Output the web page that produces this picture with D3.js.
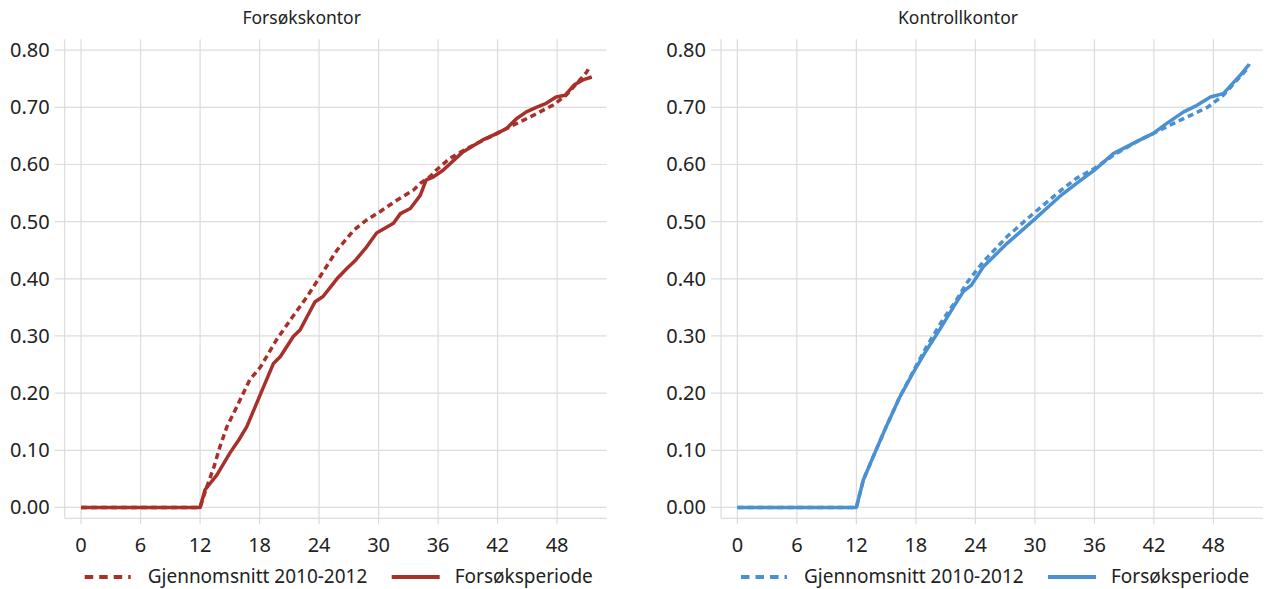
<!DOCTYPE html>
<html>
<head>
<meta charset="utf-8">
<script src="https://cdn.jsdelivr.net/npm/d3@7"></script>
<style>
  body { margin: 0; background: #fff; }
  text { font-family: "Noto Sans", sans-serif; fill: #222; }
</style>
</head>
<body>
<div id="chart"></div>
<script>
const width = 1265, height = 589;

// tick labels
const xTicks = [0, 6, 12, 18, 24, 30, 36, 42, 48];
const yTicks = [0, 0.1, 0.2, 0.3, 0.4, 0.5, 0.6, 0.7, 0.8];

// Forsøkskontor, gjennomsnitt 2010-2012
const forsokAvgX = [0, 12, 12.7, 13.4, 14.0, 14.7, 15.7, 17.0, 18.1, 19.7, 21.1, 22.8, 24.1, 25.8, 27.5, 28.8, 30.1, 31.8, 33.5, 34.2, 35.2, 35.8, 37.2, 38.9, 40.4, 41.9, 43.6, 45.6, 47.6, 48.9, 50.2, 51.0, 51.3];
const forsokAvgY = [0, 0, 0.037, 0.071, 0.106, 0.141, 0.176, 0.223, 0.246, 0.293, 0.328, 0.369, 0.404, 0.45, 0.485, 0.503, 0.517, 0.537, 0.555, 0.567, 0.579, 0.590, 0.611, 0.628, 0.641, 0.654, 0.669, 0.686, 0.704, 0.721, 0.746, 0.762, 0.772];

// Forsøkskontor, forsøksperiode
const forsokTrialX = [0, 12, 12.5, 13.7, 15.0, 15.9, 16.7, 17.7, 18.4, 19.4, 20.1, 21.4, 22.1, 22.8, 23.6, 24.4, 25.8, 26.8, 27.7, 28.8, 29.8, 31.5, 32.2, 33.2, 34.2, 34.8, 35.5, 36.5, 38.5, 40.5, 41.9, 42.9, 43.9, 44.9, 45.9, 46.9, 47.9, 48.8, 49.7, 50.6, 51.5];
const forsokTrialY = [0, 0, 0.031, 0.057, 0.095, 0.118, 0.141, 0.182, 0.211, 0.252, 0.264, 0.299, 0.311, 0.334, 0.36, 0.369, 0.40, 0.418, 0.433, 0.456, 0.48, 0.497, 0.514, 0.523, 0.546, 0.573, 0.578, 0.59, 0.622, 0.643, 0.654, 0.663, 0.68, 0.692, 0.70, 0.707, 0.718, 0.721, 0.739, 0.748, 0.753];

// Kontrollkontor, gjennomsnitt 2010-2012
const kontrollAvgX = [0, 12, 12.7, 13.7, 15.0, 16.4, 17.7, 19.1, 20.7, 22.1, 23.1, 24.8, 27.2, 29.9, 32.5, 34.2, 36.0, 37.9, 40.6, 41.9, 44.0, 45.7, 47.4, 49.0, 50.4, 51.4, 51.6];
const kontrollAvgY = [0, 0, 0.048, 0.089, 0.141, 0.194, 0.237, 0.282, 0.328, 0.363, 0.392, 0.43, 0.474, 0.515, 0.553, 0.576, 0.593, 0.616, 0.643, 0.654, 0.672, 0.686, 0.70, 0.721, 0.748, 0.767, 0.776];

// Kontrollkontor, forsøksperiode
const kontrollTrialX = [0, 12, 12.7, 13.7, 15.0, 16.4, 17.7, 19.1, 20.4, 21.8, 22.8, 23.6, 24.8, 27.2, 29.9, 32.5, 34.2, 36.0, 37.9, 40.6, 41.9, 43.3, 45.0, 46.3, 47.7, 49.0, 49.9, 50.7, 51.5];
const kontrollTrialY = [0, 0, 0.048, 0.089, 0.141, 0.194, 0.235, 0.276, 0.311, 0.351, 0.378, 0.389, 0.421, 0.462, 0.503, 0.544, 0.567, 0.590, 0.619, 0.643, 0.654, 0.672, 0.692, 0.703, 0.718, 0.724, 0.741, 0.756, 0.773];

const legendLabels = ["Gjennomsnitt 2010-2012", "Forsøksperiode"];

const svg = d3.select("#chart")
    .append("svg")
    .attr("width", width)
    .attr("height", height);

const plotTop = 39.3, plotBottom = 518.3, plotWidth = 542;

const y = d3.scaleLinear().domain([-0.019, 0.819]).range([plotBottom, plotTop]);

function toPoints(xs, ys) {
    return xs.map((d, i) => [d, ys[i]]);
}

function drawPanel(left, title, color, avg, trial) {
    const x = d3.scaleLinear().domain([-1.65, 53]).range([left, left + plotWidth]);
    const g = svg.append("g");

    // horizontal grid
    g.selectAll(".hgrid")
        .data(yTicks)
        .join("line")
        .attr("x1", left - 10)
        .attr("x2", left + plotWidth)
        .attr("y1", d => y(d))
        .attr("y2", d => y(d))
        .attr("stroke", "#dcdcdc")
        .attr("stroke-width", 1.2);

    // vertical grid
    g.selectAll(".vgrid")
        .data(xTicks)
        .join("line")
        .attr("x1", d => x(d))
        .attr("x2", d => x(d))
        .attr("y1", plotTop)
        .attr("y2", plotBottom + 6)
        .attr("stroke", "#dcdcdc")
        .attr("stroke-width", 1.2);

    // frame left + bottom
    g.append("line")
        .attr("x1", left).attr("x2", left)
        .attr("y1", plotTop).attr("y2", plotBottom)
        .attr("stroke", "#dcdcdc").attr("stroke-width", 1.2);
    g.append("line")
        .attr("x1", left).attr("x2", left + plotWidth)
        .attr("y1", plotBottom).attr("y2", plotBottom)
        .attr("stroke", "#dcdcdc").attr("stroke-width", 1.2);

    // y labels
    g.selectAll(".ylab")
        .data(yTicks)
        .join("text")
        .attr("x", left - 15)
        .attr("y", d => y(d) + 7)
        .attr("text-anchor", "end")
        .style("font-size", "20px")
        .text(d => d3.format(".2f")(d));

    // x labels
    g.selectAll(".xlab")
        .data(xTicks)
        .join("text")
        .attr("x", d => x(d))
        .attr("y", 552)
        .attr("text-anchor", "middle")
        .style("font-size", "20px")
        .text(d => d);

    // title
    g.append("text")
        .attr("x", left + 237)
        .attr("y", 24)
        .attr("text-anchor", "middle")
        .style("font-size", "17.5px")
        .text(title);

    const line = d3.line()
        .x(d => x(d[0]))
        .y(d => y(d[1]));

    g.append("path")
        .datum(trial)
        .attr("d", line)
        .attr("fill", "none")
        .attr("stroke", color)
        .attr("stroke-width", 3.5)
        .attr("stroke-linejoin", "round");

    g.append("path")
        .datum(avg)
        .attr("d", line)
        .attr("fill", "none")
        .attr("stroke", color)
        .attr("stroke-width", 3.5)
        .attr("stroke-dasharray", "6,4");

    // legend
    const ly = 577;
    g.append("line")
        .attr("x1", left + 20).attr("x2", left + 66)
        .attr("y1", ly).attr("y2", ly)
        .attr("stroke", color).attr("stroke-width", 4)
        .attr("stroke-dasharray", "8.5,6");
    g.append("text")
        .attr("x", left + 83).attr("y", ly + 6)
        .style("font-size", "19px")
        .text(legendLabels[0]);
    g.append("line")
        .attr("x1", left + 327).attr("x2", left + 375)
        .attr("y1", ly).attr("y2", ly)
        .attr("stroke", color).attr("stroke-width", 4);
    g.append("text")
        .attr("x", left + 390).attr("y", ly + 6)
        .style("font-size", "19px")
        .text(legendLabels[1]);
}

drawPanel(64.7, "Forsøkskontor", "#a8302a",
    toPoints(forsokAvgX, forsokAvgY), toPoints(forsokTrialX, forsokTrialY));
drawPanel(721, "Kontrollkontor", "#4b91d2",
    toPoints(kontrollAvgX, kontrollAvgY), toPoints(kontrollTrialX, kontrollTrialY));
</script>
</body>
</html>
